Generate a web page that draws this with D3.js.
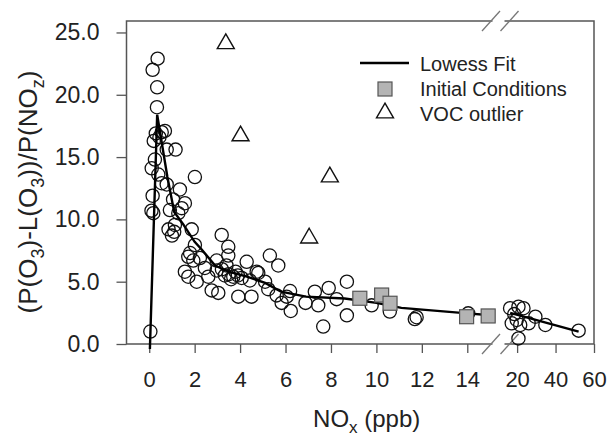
<!DOCTYPE html>
<html>
<head>
<meta charset="utf-8">
<script src="https://cdn.jsdelivr.net/npm/d3@7"></script>
<style>
  body { margin: 0; background: #fff; }
  text { font-family: "Liberation Sans", Arial, sans-serif; fill: #222; }
</style>
</head>
<body>
<div id="chart"></div>
<script>
// NOx (ppb) vs (P(O3)-L(O3))/P(NOz)
// left part of the broken axis (0-15 ppb)
var obsNox = [0.37,0.15,0.35,0.34,0.29,0.55,0.69,0.45,0.2,0.77,1.16,0.25,0.11,0.4,2.01,0.55,0.77,1.35,
  0.15,1.05,1.57,0.1,0.18,0.91,1.28,1.43,1.13,1.87,1.0,1.1,0.85,2.01,1.72,1.94,2.23,1.8,1.72,2.09,1.57,
  2.45,2.6,2.75,3.04,3.19,3.48,3.48,2.97,2.97,3.33,3.7,3.92,4.29,4.5,4.07,4.73,5.1,5.31,5.68,5.24,5.61,
  5.83,6.2,6.23,6.05,6.88,7.29,7.44,7.9,8.25,8.7,8.7,7.66,9.79,10.59,11.69,11.77,14.04,4.8,4.43,0.05,
  3.2,3.5,3.6,3.8,3.4,3.9];
var obsRatio = [22.9,22.0,20.6,19.0,16.9,17.0,17.1,16.6,16.3,15.6,15.6,14.8,14.1,13.6,13.4,12.9,12.8,12.4,
  11.9,11.6,11.3,10.7,10.5,10.75,10.5,10.9,9.55,9.2,8.7,9.0,9.2,7.95,7.0,6.7,6.9,7.3,5.4,5.0,5.8,
  6.1,5.4,4.3,4.1,8.75,7.8,7.1,6.7,5.9,5.5,5.4,3.8,6.6,3.8,5.3,5.8,5.0,7.1,6.3,4.4,3.9,
  3.3,4.25,2.65,3.8,3.3,4.2,3.1,4.5,3.6,5.0,2.3,1.4,3.1,2.6,2.0,2.15,2.46,5.7,5.1,1.0,
  6.0,5.6,5.2,5.8,6.3,5.5];
// right part of the broken axis (15-60 ppb)
var farNox = [16.35,20.7,23.3,17.2,19.8,21.6,26.0,29.5,34.7,52.0,20.7,18.5];
var farRatio = [2.87,2.99,2.87,1.66,1.93,1.53,1.66,2.19,1.53,1.07,0.45,2.4];

var initNox = [9.27,10.23,10.6,13.97,14.92];
var initRatio = [3.67,3.93,3.27,2.19,2.25];

var vocNox = [3.37,4.02,7.95,7.04];
var vocRatio = [24.1,16.7,13.4,8.5];

var fitNox = [0.03,0.35,0.8,1.1,1.5,2.0,2.3,2.9,3.5,4.3,5.1,5.8,6.9,8.6,10.0,11.1,14.0,14.9];
var fitRatio = [-0.4,18.4,13.4,10.6,9.6,8.2,7.6,6.3,5.8,5.4,4.9,4.2,3.8,3.65,3.3,2.9,2.46,2.33];
var fitFarNox = [16.4,52.0];
var fitFarRatio = [2.5,1.0];

var yTicks = [0,5,10,15,20,25];
var xTicksLeft = [0,2,4,6,8,10,12,14];
var xTicksRight = [20,40,60];

var margin = {top: 21, right: 14, bottom: 92, left: 126.5},
    width = 608 - margin.left - margin.right,
    height = 436 - margin.top - margin.bottom;

var svg = d3.select("#chart")
  .append("svg")
    .attr("width", 608)
    .attr("height", 436)
  .append("g")
    .attr("transform", "translate(" + margin.left + "," + margin.top + ")");

var xL = d3.scaleLinear().domain([-1, 15]).range([0, 363.5]);
var xR = d3.scaleLinear().domain([15, 60]).range([381, width]);
var y = d3.scaleLinear().domain([0, 25.92]).range([height, 0]);

var axisColor = "#555";

// frame
svg.append("rect")
  .attr("width", width).attr("height", height)
  .attr("fill", "none").attr("stroke", axisColor).attr("stroke-width", 1.5);

// y ticks
var yAx = svg.append("g").call(d3.axisLeft(y).tickValues(yTicks).tickSize(10).tickPadding(17)
  .tickFormat(d3.format(".1f")));
yAx.select(".domain").remove();
yAx.selectAll("line").attr("stroke", axisColor).attr("stroke-width", 1.3);
yAx.selectAll("text").style("font-size", "23px").attr("fill", "#222");

// x ticks, both parts
var xAxL = svg.append("g").attr("transform", "translate(0," + height + ")")
  .call(d3.axisBottom(xL).tickValues(xTicksLeft).tickSize(9).tickPadding(18));
var xAxR = svg.append("g").attr("transform", "translate(0," + height + ")")
  .call(d3.axisBottom(xR).tickValues(xTicksRight).tickSize(9).tickPadding(18));
[xAxL, xAxR].forEach(function(a) {
  a.select(".domain").remove();
  a.selectAll("line").attr("stroke", axisColor).attr("stroke-width", 1.3);
  a.selectAll("text").style("font-size", "22px").attr("fill", "#222");
});

// break marks on top and bottom edges
[0, height].forEach(function(yy) {
  svg.append("rect").attr("x", 366).attr("y", yy - 2).attr("width", 12).attr("height", 4).attr("fill", "#fff");
  [364.5, 383].forEach(function(xx) {
    svg.append("line")
      .attr("x1", xx - 9).attr("y1", yy + 10)
      .attr("x2", xx + 9).attr("y2", yy - 10)
      .attr("stroke", "#777").attr("stroke-width", 1.3);
  });
});

// observations
var obs = obsNox.map(function(d, i) { return {cx: xL(d), cy: y(obsRatio[i])}; })
  .concat(farNox.map(function(d, i) { return {cx: xR(d), cy: y(farRatio[i])}; }));
svg.append("g")
  .selectAll("circle")
  .data(obs)
  .join("circle")
    .attr("cx", function (d) { return d.cx; })
    .attr("cy", function (d) { return d.cy; })
    .attr("r", 6.6)
    .attr("fill", "none")
    .attr("stroke", "#111")
    .attr("stroke-width", 1.3);

// lowess fit
var line = d3.line().x(function(d) { return d[0]; }).y(function(d) { return d[1]; });
svg.append("path")
  .attr("d", line(fitNox.map(function(d, i) { return [xL(d), y(fitRatio[i])]; })))
  .attr("fill", "none").attr("stroke", "#000").attr("stroke-width", 2.4);
svg.append("path")
  .attr("d", line(fitFarNox.map(function(d, i) { return [xR(d), y(fitFarRatio[i])]; })))
  .attr("fill", "none").attr("stroke", "#000").attr("stroke-width", 2.4);

// initial conditions
svg.append("g")
  .selectAll("rect")
  .data(initNox)
  .join("rect")
    .attr("x", function (d) { return xL(d) - 7; })
    .attr("y", function (d, i) { return y(initRatio[i]) - 7; })
    .attr("width", 14).attr("height", 14)
    .attr("fill", "#b4b4b4").attr("stroke", "#555").attr("stroke-width", 1.2);

// VOC outliers
var tri = d3.symbol().type(d3.symbolTriangle).size(125);
svg.append("g")
  .selectAll("path")
  .data(vocNox)
  .join("path")
    .attr("transform", function (d, i) { return "translate(" + xL(d) + "," + y(vocRatio[i]) + ")"; })
    .attr("d", tri)
    .attr("fill", "none").attr("stroke", "#111").attr("stroke-width", 1.4);

// legend
var lg = svg.append("g").attr("transform", "translate(" + (360 - margin.left) + "," + (63 - margin.top) + ")");
lg.append("line").attr("x1", 0).attr("x2", 49).attr("y1", 0).attr("y2", 0)
  .attr("stroke", "#000").attr("stroke-width", 2.4);
lg.append("rect").attr("x", 18).attr("y", 19).attr("width", 14).attr("height", 14)
  .attr("fill", "#b4b4b4").attr("stroke", "#555").attr("stroke-width", 1.2);
lg.append("path").attr("transform", "translate(25,50)").attr("d", tri)
  .attr("fill", "none").attr("stroke", "#111").attr("stroke-width", 1.4);
var lgText = ["Lowess Fit", "Initial Conditions", "VOC outlier"];
lg.selectAll("text.lab")
  .data(lgText)
  .join("text")
    .attr("class", "lab")
    .attr("x", 60)
    .attr("y", function (d, i) { return 7.5 + i * 25; })
    .style("font-size", "20px")
    .text(function (d) { return d; });

// x title
var xt = svg.append("text")
  .attr("x", 366.7 - margin.left)
  .attr("y", 426.5 - margin.top)
  .attr("text-anchor", "middle")
  .style("font-size", "24px");
xt.append("tspan").text("NO");
xt.append("tspan").attr("dy", 6).style("font-size", "17px").text("x");
xt.append("tspan").attr("dy", -6).text(" (ppb)");

// y title
var yt = svg.append("text")
  .attr("transform", "translate(" + (37 - margin.left) + "," + (192 - margin.top) + ") rotate(-90)")
  .attr("text-anchor", "middle")
  .style("font-size", "26px");
yt.append("tspan").text("(P(O");
yt.append("tspan").attr("dy", 7).style("font-size", "18px").text("3");
yt.append("tspan").attr("dy", -7).text(")-L(O");
yt.append("tspan").attr("dy", 7).style("font-size", "18px").text("3");
yt.append("tspan").attr("dy", -7).text("))/P(NO");
yt.append("tspan").attr("dy", 7).style("font-size", "18px").text("z");
yt.append("tspan").attr("dy", -7).text(")");
</script>
</body>
</html>
